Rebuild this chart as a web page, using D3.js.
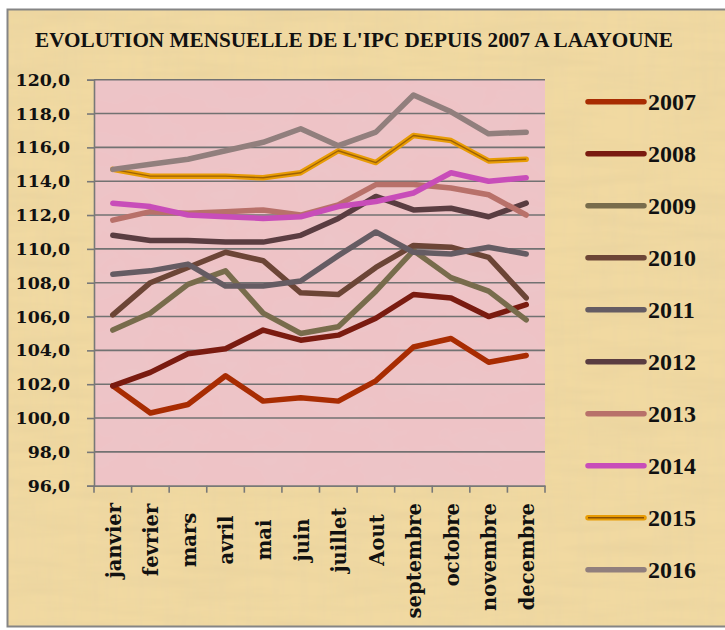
<!DOCTYPE html>
<html lang="fr">
<head>
<meta charset="utf-8">
<script src="https://d3js.org/d3.v7.min.js"></script>
<title>IPC Laayoune</title>
<style>
  body { margin: 0; background: #fff; }
  svg { display: block; }
</style>
</head>
<body>
<div id="chart"></div>
<script>
  // categories
  const months = ["janvier", "fevrier", "mars", "avril", "mai", "juin",
    "juillet", "Aout", "septembre", "octobre", "novembre", "decembre"];
  const years = ["2007", "2008", "2009", "2010", "2011", "2012", "2013", "2014", "2015", "2016"];

  // monthly values per year
  const ipc2007 = [101.9, 100.3, 100.8, 102.5, 101.0, 101.2, 101.0, 102.2, 104.2, 104.7, 103.3, 103.7];
  const ipc2008 = [101.9, 102.7, 103.8, 104.1, 105.2, 104.6, 104.9, 105.9, 107.3, 107.1, 106.0, 106.7];
  const ipc2009 = [105.2, 106.2, 107.9, 108.7, 106.2, 105.0, 105.4, 107.5, 109.9, 108.3, 107.5, 105.8];
  const ipc2010 = [106.1, 108.0, 108.9, 109.8, 109.3, 107.4, 107.3, 108.9, 110.2, 110.1, 109.5, 107.1];
  const ipc2011 = [108.5, 108.7, 109.1, 107.8, 107.8, 108.1, 109.6, 111.0, 109.8, 109.7, 110.1, 109.7];
  const ipc2012 = [110.8, 110.5, 110.5, 110.4, 110.4, 110.8, 111.8, 113.1, 112.3, 112.4, 111.9, 112.7];
  const ipc2013 = [111.7, 112.2, 112.1, 112.2, 112.3, 112.0, 112.6, 113.8, 113.8, 113.6, 113.2, 112.0];
  const ipc2014 = [112.7, 112.5, 112.0, 111.9, 111.8, 111.9, 112.5, 112.8, 113.3, 114.5, 114.0, 114.2];
  const ipc2015 = [114.7, 114.3, 114.3, 114.3, 114.2, 114.5, 115.8, 115.1, 116.7, 116.4, 115.2, 115.3];
  const ipc2016 = [114.7, 115.0, 115.3, 115.8, 116.3, 117.1, 116.1, 116.9, 119.1, 118.1, 116.8, 116.9];

  // y axis tick labels
  const yTicks = [96, 98, 100, 102, 104, 106, 108, 110, 112, 114, 116, 118, 120];

  const series = [ipc2007, ipc2008, ipc2009, ipc2010, ipc2011, ipc2012, ipc2013, ipc2014, ipc2015, ipc2016];
  const colors = ["#a82c02", "#7a1b10", "#786c4c", "#6c4536", "#655c63",
    "#5a3d41", "#b8716a", "#c84db9", "#e89c05", "#917f7d"];

  const W = 725, H = 630;
  const plot = { left: 94, right: 545, top: 79.7, bottom: 485.7 };

  const svg = d3.select("#chart").append("svg")
    .attr("width", W).attr("height", H);

  // textures
  const defs = svg.append("defs");
  function noise(id, freq, seed, rgb, amount) {
    const f = defs.append("filter").attr("id", id)
      .attr("x", 0).attr("y", 0).attr("width", 1).attr("height", 1);
    f.append("feTurbulence").attr("type", "fractalNoise")
      .attr("baseFrequency", freq).attr("numOctaves", 3).attr("seed", seed);
    f.append("feColorMatrix").attr("type", "matrix")
      .attr("values", `0 0 0 0 ${rgb[0]} 0 0 0 0 ${rgb[1]} 0 0 0 0 ${rgb[2]} ${amount} 0 0 0 ${-amount * 0.35}`);
  }
  noise("papyrus", "0.012 0.09", 3, [0.78, 0.62, 0.33], 0.8);
  noise("paperV", "0.11 0.01", 7, [0.8, 0.66, 0.38], 0.55);
  noise("pinkTex", "0.02 0.03", 5, [0.82, 0.58, 0.6], 0.7);

  // outer frame
  svg.append("rect").attr("x", 7.5).attr("y", 9.5)
    .attr("width", W).attr("height", 617)
    .attr("fill", "#f1d9a1");
  svg.append("rect").attr("x", 7.5).attr("y", 9.5)
    .attr("width", W).attr("height", 617)
    .attr("filter", "url(#papyrus)");
  svg.append("rect").attr("x", 7.5).attr("y", 9.5)
    .attr("width", W).attr("height", 617)
    .attr("filter", "url(#paperV)");
  svg.append("rect").attr("x", 7.5).attr("y", 9.5)
    .attr("width", W).attr("height", 617)
    .attr("fill", "none").attr("stroke", "#858585").attr("stroke-width", 2);

  // title
  svg.append("text")
    .attr("x", 35).attr("y", 46.5)
    .attr("textLength", 638).attr("lengthAdjust", "spacingAndGlyphs")
    .style("font-family", "'Liberation Serif', serif")
    .style("font-weight", "bold").style("font-size", "20.5px")
    .attr("fill", "#111")
    .text("EVOLUTION MENSUELLE DE L'IPC DEPUIS 2007 A LAAYOUNE");

  const x = d3.scaleBand().domain(months).range([plot.left, plot.right]);
  const y = d3.scaleLinear().domain([96, 120]).range([plot.bottom, plot.top]);

  // plot background
  svg.append("rect").attr("x", plot.left).attr("y", plot.top)
    .attr("width", plot.right - plot.left).attr("height", plot.bottom - plot.top)
    .attr("fill", "#eec3c6");
  svg.append("rect").attr("x", plot.left).attr("y", plot.top)
    .attr("width", plot.right - plot.left).attr("height", plot.bottom - plot.top)
    .attr("filter", "url(#pinkTex)");

  // gridlines
  svg.append("g").selectAll("line")
    .data(yTicks.filter(d => d > 96))
    .join("line")
    .attr("x1", plot.left).attr("x2", plot.right)
    .attr("y1", d => y(d)).attr("y2", d => y(d))
    .attr("stroke", "#727272").attr("stroke-width", 1.6);

  // y axis
  const yAxis = svg.append("g")
    .attr("transform", `translate(${plot.left},0)`)
    .call(d3.axisLeft(y).tickValues(yTicks).tickSize(7).tickPadding(17)
      .tickFormat(d => d3.format(".1f")(d).replace(".", ",")));
  yAxis.selectAll("line, path").attr("stroke", "#787878").attr("stroke-width", 1.6);
  yAxis.selectAll("text")
    .style("font-family", "'DejaVu Serif', serif").style("font-weight", "bold")
    .style("font-size", "17.4px").attr("fill", "#111");

  // x axis
  const xAxis = svg.append("g")
    .attr("transform", `translate(0,${plot.bottom})`)
    .call(d3.axisBottom(x).tickSize(0).tickFormat(""));
  xAxis.select("path").attr("stroke", "#787878").attr("stroke-width", 1.8);
  xAxis.selectAll(".tick").remove();
  xAxis.selectAll(".bound")
    .data(d3.range(months.length + 1))
    .join("line")
    .attr("x1", i => plot.left + i * x.step()).attr("x2", i => plot.left + i * x.step())
    .attr("y1", 0).attr("y2", 7)
    .attr("stroke", "#787878").attr("stroke-width", 1.6);

  // month labels, rotated
  const mLabels = svg.append("g").selectAll("text")
    .data(months)
    .join("text")
    .style("font-family", "'DejaVu Serif', serif").style("font-weight", "bold")
    .style("font-size", "19.5px").attr("fill", "#111")
    .attr("text-anchor", "middle").attr("dy", "0.4em")
    .text(d => d);
  mLabels.each(function (d) {
    const len = this.getComputedTextLength();
    const cy = Math.max(540, 503 + len / 2);
    d3.select(this).attr("transform",
      `translate(${x(d) + x.bandwidth() / 2},${cy}) rotate(-90)`);
  });

  // lines
  const line = d3.line()
    .x((d, i) => x(months[i]) + x.bandwidth() / 2)
    .y(d => y(d));
  const lines = svg.append("g");
  series.forEach((s, k) => {
    lines.append("path").datum(s)
      .attr("d", line)
      .attr("fill", "none").attr("stroke", colors[k])
      .attr("stroke-width", 5.5).attr("stroke-linejoin", "round").attr("stroke-linecap", "round");
    if (years[k] === "2015") {
      lines.append("path").datum(s)
        .attr("d", line)
        .attr("fill", "none").attr("stroke", "#8a5206")
        .attr("stroke-width", 1.4).attr("stroke-opacity", 0.8).attr("stroke-linejoin", "round");
    }
  });

  // legend
  const legend = svg.append("g").selectAll("g")
    .data(years)
    .join("g")
    .attr("transform", (d, i) => `translate(588,${101.7 + i * 52})`);
  legend.append("line")
    .attr("x1", 0).attr("x2", 56)
    .attr("stroke", (d, i) => colors[i])
    .attr("stroke-width", 5.5).attr("stroke-linecap", "round");
  legend.filter(d => d === "2015").append("line")
    .attr("x1", 0).attr("x2", 56)
    .attr("stroke", "#8a5206").attr("stroke-width", 1.4);
  legend.append("text")
    .attr("x", 60).attr("y", 8)
    .style("font-family", "'Liberation Serif', serif").style("font-weight", "bold")
    .style("font-size", "24px").attr("fill", "#111")
    .text(d => d);
</script>
</body>
</html>
